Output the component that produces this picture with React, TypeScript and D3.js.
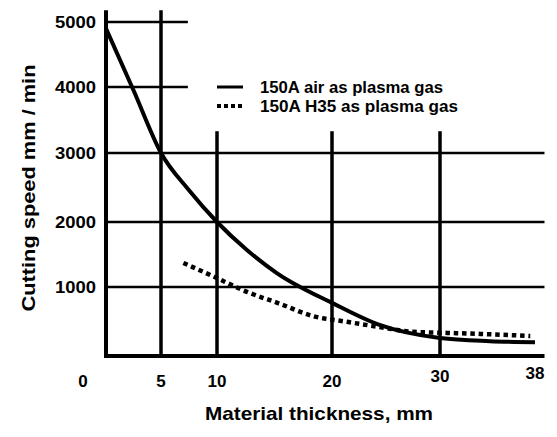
import React from "react";
import * as d3 from "d3";

// ---- data ----
const thicknessTicks = [0, 5, 10, 20, 30, 38];
const speedTicks = [1000, 2000, 3000, 4000, 5000];

const airThickness = [0, 2.5, 5, 7.5, 10, 12.6, 15.2, 20, 24.4, 30, 34.2, 38];
const airSpeed = [4900, 3950, 3000, 2460, 2000, 1570, 1215, 770, 450, 260, 215, 200];

const h35Thickness = [7, 9.4, 12.6, 15.5, 18.3, 21.4, 24.4, 27.5, 30.6, 33.4, 37.6];
const h35Speed = [1370, 1185, 930, 755, 580, 495, 420, 350, 335, 320, 290];

const legendLabels = ["150A air as plasma gas", "150A H35 as plasma gas"];
const xTitle = "Material thickness, mm";
const yTitle = "Cutting speed mm / min";

// ---- layout ----
const W = 557;
const H = 437;
const FONT = "'Liberation Sans', Arial, Helvetica, sans-serif";

// the scanned chart's grid is not evenly spaced, so use a piecewise (polylinear) scale
const x = d3.scaleLinear().domain(thicknessTicks).range([106, 161, 217, 332, 440, 535]);
const y = d3.scaleLinear().domain([0, ...speedTicks]).range([356, 287, 222, 153, 87, 22]);

const X_END = 38.8; // right end of long horizontal rules
const SHORT_END = 7.4; // right end of the 4000/5000 rules
const TOP_FULL = 5180; // top of the 0 and 5 verticals
const TOP_SHORT = 3330; // top of the 10/20/30 verticals

export default function App() {
  const air = airThickness.map((t, i) => [t, airSpeed[i]] as [number, number]);
  const h35 = h35Thickness.map((t, i) => [t, h35Speed[i]] as [number, number]);
  const line = d3
    .line<[number, number]>()
    .x((d) => x(d[0]))
    .y((d) => y(d[1]))
    .curve(d3.curveMonotoneX);

  const legendX = 217;
  const legendY = [87, 106];
  const legendLen = [183, 198];

  return (
    <svg
      width={W}
      height={H}
      viewBox={`0 0 ${W} ${H}`}
      style={{ position: "absolute", left: 0, top: 0, background: "#fff" }}
      fontFamily={FONT}
      fontWeight="bold"
    >
      <rect width={W} height={H} fill="#fff" />
      {/* horizontal rules */}
      {speedTicks.map((v) => (
        <line
          key={"h" + v}
          x1={x(0)}
          x2={x(v >= 4000 ? SHORT_END : X_END)}
          y1={y(v)}
          y2={y(v)}
          stroke="#000"
          strokeWidth={2.5}
        />
      ))}
      {/* vertical rules */}
      {[5, 10, 20, 30].map((t) => (
        <line
          key={"v" + t}
          x1={x(t)}
          x2={x(t)}
          y1={y(t <= 5 ? TOP_FULL : TOP_SHORT)}
          y2={y(0)}
          stroke="#000"
          strokeWidth={3.5}
        />
      ))}
      {/* axes */}
      <line x1={x(0)} x2={x(0)} y1={y(TOP_FULL)} y2={y(0) + 2} stroke="#000" strokeWidth={4} />
      <line x1={x(0) - 2} x2={x(X_END)} y1={y(0)} y2={y(0)} stroke="#000" strokeWidth={4} />

      {/* series */}
      <path d={line(air) || ""} fill="none" stroke="#000" strokeWidth={4} />
      <path
        d={line(h35) || ""}
        fill="none"
        stroke="#000"
        strokeWidth={4.5}
        strokeDasharray="4.5 3.8"
      />

      {/* y tick labels */}
      {speedTicks.map((v) => (
        <text
          key={"yl" + v}
          x={x(0) - 10}
          y={y(v)}
          dy="0.36em"
          textAnchor="end"
          fontSize={17}
          textLength={41}
          lengthAdjust="spacingAndGlyphs"
        >
          {v}
        </text>
      ))}
      {/* x tick labels */}
      {thicknessTicks.map((t) => (
        <text
          key={"xl" + t}
          x={x(t) + (t === 0 ? -23 : 0)}
          y={t === 38 ? 379 : t === 30 ? 382 : 387}
          textAnchor="middle"
          fontSize={17}
        >
          {t}
        </text>
      ))}

      {/* axis titles */}
      <text
        x={319}
        y={420}
        textAnchor="middle"
        fontSize={19}
        textLength={228}
        lengthAdjust="spacingAndGlyphs"
      >
        {xTitle}
      </text>
      <text
        transform={`translate(35, 188) rotate(-90)`}
        textAnchor="middle"
        fontSize={19}
        textLength={247}
        lengthAdjust="spacingAndGlyphs"
      >
        {yTitle}
      </text>

      {/* legend */}
      <line x1={legendX} x2={legendX + 26} y1={legendY[0]} y2={legendY[0]} stroke="#000" strokeWidth={3} />
      <line
        x1={legendX}
        x2={legendX + 26}
        y1={legendY[1]}
        y2={legendY[1]}
        stroke="#000"
        strokeWidth={4}
        strokeDasharray="4 3"
      />
      {legendLabels.map((s, i) => (
        <text
          key={s}
          x={legendX + 43}
          y={legendY[i]}
          dy="0.36em"
          fontSize={16}
          textLength={legendLen[i]}
          lengthAdjust="spacingAndGlyphs"
        >
          {s}
        </text>
      ))}
    </svg>
  );
}
